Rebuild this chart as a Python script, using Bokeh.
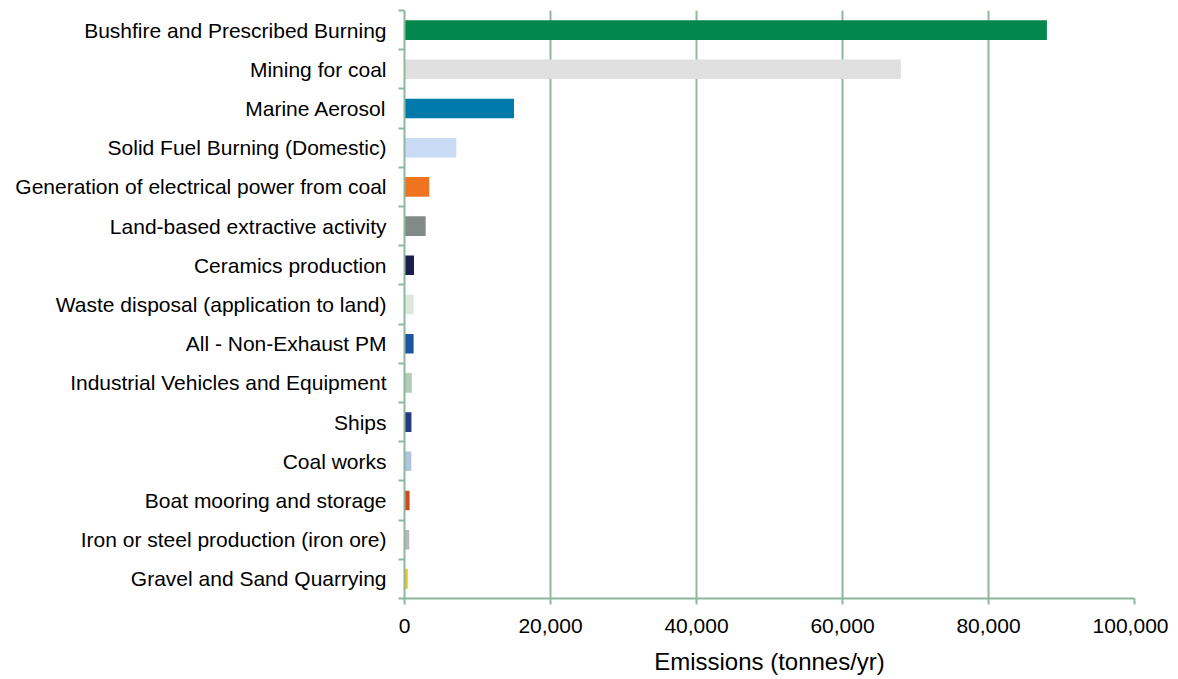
from bokeh.plotting import figure
from bokeh.models import ColumnDataSource, FixedTicker, NumeralTickFormatter, Range1d
from bokeh.embed import file_html
from bokeh.resources import INLINE

categories = [
    "Bushfire and Prescribed Burning",
    "Mining for coal",
    "Marine Aerosol",
    "Solid Fuel Burning (Domestic)",
    "Generation of electrical power from coal",
    "Land-based extractive activity",
    "Ceramics production",
    "Waste disposal (application to land)",
    "All - Non-Exhaust PM",
    "Industrial Vehicles and Equipment",
    "Ships",
    "Coal works",
    "Boat mooring and storage",
    "Iron or steel production (iron ore)",
    "Gravel and Sand Quarrying",
]
emissions = [88000, 68000, 15000, 7100, 3400, 2900, 1300, 1250, 1250, 1000, 950, 930, 700, 650, 450]
colors = ["#03874D", "#DFE0DF", "#007AAB", "#C9DAF4", "#F07320", "#818A87", "#1A1F4D",
          "#DDE8DD", "#1F55A0", "#B2CCB5", "#263880", "#AFC4E0", "#D04A20", "#B8B8BA", "#F3C520"]
x_ticks = [0, 20000, 40000, 60000, 80000, 100000]

n = len(categories)
ypos = [n - 0.5 - i for i in range(n)]

src = ColumnDataSource(dict(y=ypos, v=emissions, c=colors, name=categories))

GREEN = "#8DB89B"
FONT = "Liberation Sans"

p = figure(width=1168, height=677, output_backend="svg", toolbar_location=None,
           x_range=Range1d(0, 100000), y_range=Range1d(0, n),
           min_border_left=404, min_border_right=34, min_border_top=10, min_border_bottom=77)
p.outline_line_color = None

p.hbar(y="y", right="v", left=0, height=0.5, color="c", line_color=None, source=src)

# x axis
xa = p.xaxis[0]
xa.ticker = FixedTicker(ticks=x_ticks)
xa.formatter = NumeralTickFormatter(format="0,0")
xa.axis_line_color = GREEN
xa.axis_line_width = 2
xa.major_tick_line_color = GREEN
xa.major_tick_line_width = 2
xa.major_tick_out = 6
xa.major_tick_in = 0
xa.minor_tick_line_color = None
xa.major_label_standoff = 14
xa.major_label_text_font = FONT
xa.major_label_text_font_size = "21px"
xa.major_label_text_color = "#000000"
xa.axis_label = "Emissions (tonnes/yr)"
xa.axis_label_text_font = FONT
xa.axis_label_text_font_size = "24px"
xa.axis_label_text_font_style = "normal"
xa.axis_label_text_color = "#000000"
xa.axis_label_standoff = 12

# y axis
ya = p.yaxis[0]
ya.ticker = FixedTicker(ticks=ypos, minor_ticks=list(range(0, n + 1)))
ya.major_label_overrides = {y: name for y, name in zip(ypos, categories)}
ya.axis_line_color = GREEN
ya.axis_line_width = 2
ya.major_tick_out = 0
ya.major_tick_in = 0
ya.major_tick_line_color = None
ya.minor_tick_line_color = GREEN
ya.minor_tick_line_width = 2
ya.minor_tick_out = 6
ya.minor_tick_in = 0
ya.major_label_standoff = 12
ya.major_label_text_font = FONT
ya.major_label_text_font_size = "21px"
ya.major_label_text_color = "#000000"

p.xgrid.ticker = FixedTicker(ticks=x_ticks)
p.xgrid.grid_line_color = GREEN
p.xgrid.grid_line_width = 2
p.ygrid.grid_line_color = None

open("out.html", "w").write(file_html(p, INLINE))
